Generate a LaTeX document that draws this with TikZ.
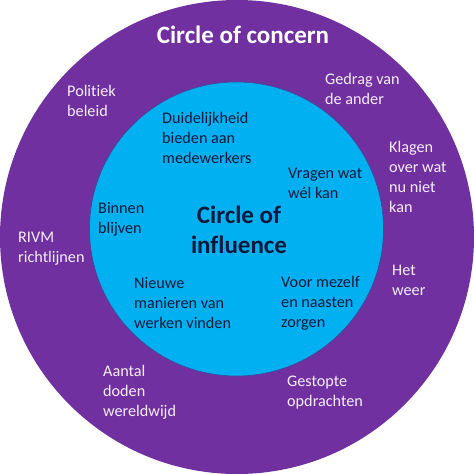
\documentclass[tikz,border=0pt]{standalone}
\usepackage{fontspec}
\setmainfont{Carlito}[Ligatures=NoCommon]
\definecolor{concern}{HTML}{7030A0}
\definecolor{influence}{HTML}{00B0F0}
\definecolor{innertext}{HTML}{0B1A3C}
\definecolor{outertext}{HTML}{F6EEFB}
\definecolor{rim}{HTML}{3A4A9A}
\begin{document}
\begin{tikzpicture}[x=1pt,y=-1pt,
  outerlbl/.style={anchor=west,inner sep=0pt,align=left,text=outertext,font=\fontsize{16.2}{20}\selectfont},
  innerlbl/.style={anchor=west,inner sep=0pt,align=left,text=innertext,font=\fontsize{16.2}{20}\selectfont},
  titlelbl/.style={inner sep=0pt,align=center,font=\bfseries\fontsize{25}{30}\selectfont}]
\useasboundingbox (0,0) rectangle (474,474);
\fill[white] (0,0) rectangle (474,474);
\node[circle,fill=concern,minimum size=474pt,inner sep=0pt] (concern) at (237,237) {};
\node[circle,fill=influence,draw=rim,line width=0.6pt,minimum size=294pt,inner sep=0pt] (influence) at (236.5,229) {};
\node[titlelbl,text=white] (tconcern) at (243,35) {Circle of concern};
\node[titlelbl,text=innertext] (tinfluence) at (239,230) {Circle of\\influence};
\node[outerlbl] (politiek) at (67,100.5) {Politiek\\beleid};
\node[outerlbl] (gedrag) at (325,89) {Gedrag van\\de ander};
\node[outerlbl] (klagen) at (389,177) {Klagen\\over wat\\nu niet\\kan};
\node[outerlbl] (rivm) at (18,249) {RIVM\\richtlijnen};
\node[outerlbl] (weer) at (392,280) {Het\\weer};
\node[outerlbl] (aantal) at (103,392) {Aantal\\doden\\wereldwijd};
\node[outerlbl] (gestopte) at (287,393) {Gestopte\\opdrachten};
\node[innerlbl] (duidelijk) at (162,138) {Duidelijkheid\\bieden aan\\medewerkers};
\node[innerlbl] (vragen) at (288,183) {Vragen wat\\wél kan};
\node[innerlbl] (binnen) at (98,219) {Binnen\\blijven};
\node[innerlbl] (nieuwe) at (134,303) {Nieuwe\\manieren van\\werken vinden};
\node[innerlbl] (voor) at (281,303) {Voor mezelf\\en naasten\\zorgen};
\end{tikzpicture}
\end{document}
